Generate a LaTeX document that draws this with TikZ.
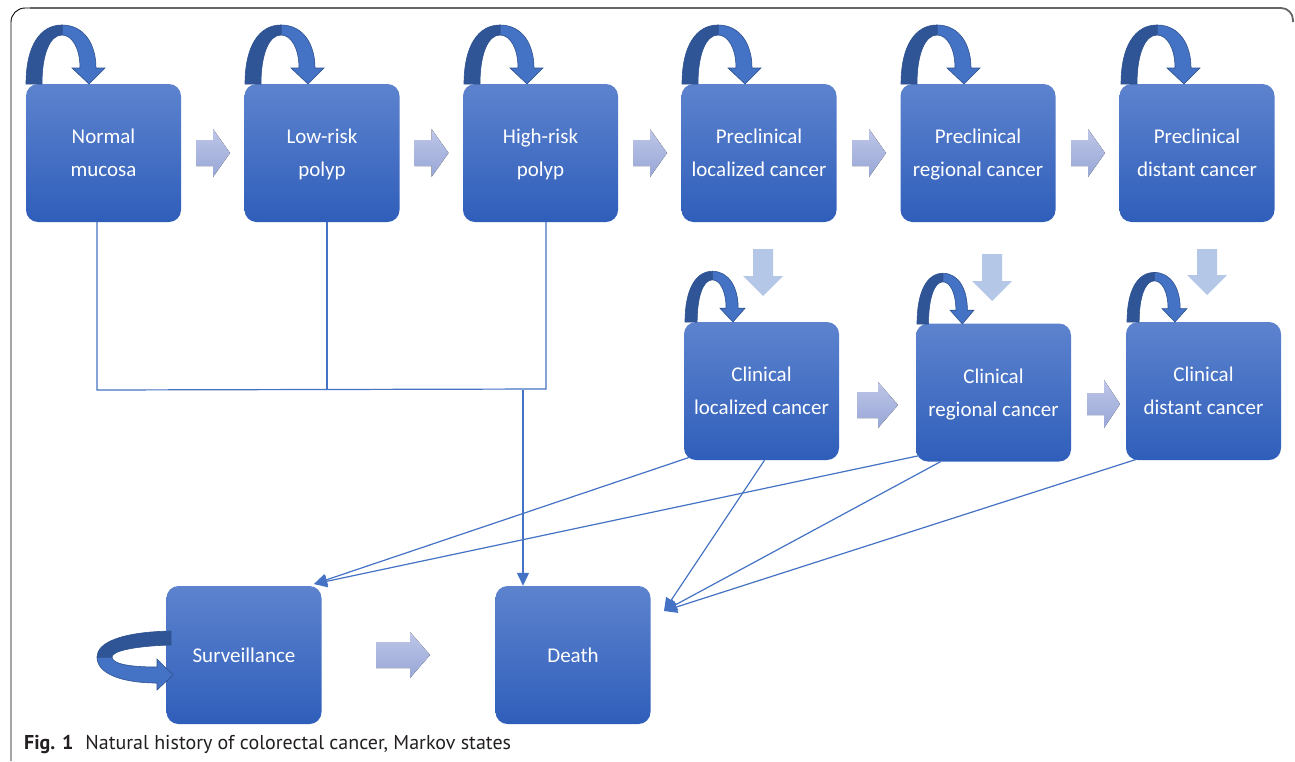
\documentclass[tikz,border=0pt]{standalone}
\usepackage{fontspec}
\setmainfont{Carlito}
\newfontfamily\capfont{PT Sans}
\usetikzlibrary{arrows.meta,calc}
\definecolor{boxtop}{RGB}{93,131,206}
\definecolor{boxbot}{RGB}{47,94,186}
\definecolor{linkc}{RGB}{68,114,196}
\definecolor{loopl}{RGB}{68,114,196}
\definecolor{loopd}{RGB}{47,85,151}
\definecolor{loopo}{RGB}{47,82,143}
\definecolor{harrT}{RGB}{190,198,232}
\definecolor{harrB}{RGB}{152,167,214}
\definecolor{varr}{RGB}{180,199,231}
\definecolor{capc}{RGB}{35,31,32}
\newcommand\myHArrow[6]{%
 \fill[top color=harrT,bottom color=harrB] ({#1},{#2-#5}) -- ({#1+#3},{#2-#5}) -- ({#1+#3},{#2-#6}) -- ({#1+#3+#4},{#2}) -- ({#1+#3},{#2+#6}) -- ({#1+#3},{#2+#5}) -- ({#1},{#2+#5}) -- cycle;}
\newcommand\myVArrow[6]{%
 \fill[varr] ({#1-#5},{#2}) -- ({#1-#5},{#2+#3}) -- ({#1-#6},{#2+#3}) -- ({#1},{#2+#3+#4}) -- ({#1+#6},{#2+#3}) -- ({#1+#5},{#2+#3}) -- ({#1+#5},{#2}) -- cycle;}
\tikzset{
 loopR/.pic={
   \filldraw[fill=loopl, draw=loopo, line width=0.6pt] (36,-59) .. controls (58,-59) and (70,-40) .. (70,-16) -- (79,-16) -- (63,0) -- (46,-16) -- (54,-16) .. controls (54,-36) and (46,-49) .. (36,-49) -- cycle;
   \filldraw[fill=loopd, draw=loopo, line width=0.6pt] (0,0) .. controls (0,-38) and (14,-59) .. (36,-59) -- (36,-49) .. controls (24,-49) and (16,-30) .. (16,0) -- cycle;
 }
}
\begin{document}
\begin{tikzpicture}[x=1pt,y=-1pt,
  box/.style={rounded corners=12pt, top color=boxtop, bottom color=boxbot, minimum width=155pt, minimum height=138pt, inner sep=0pt, align=center, text=white, text depth=0pt, font=\fontsize{21}{33}\selectfont},
  link/.style={draw=linkc, line width=1.2pt},
  tip/.style={-{Triangle[length=13pt,width=12pt]}}]
\useasboundingbox[fill=white] (0,0) rectangle (1295,761);
% frame
\draw[black, line width=0.9pt, rounded corners=14pt] (11,761) -- (11,8) -- (32,8);
\draw[black!60, line width=1.8pt, rounded corners=12pt] (30,8) -- (1293,8) -- (1293,22);
% boxes
\node[box] (nm) at (103.5,153) {Normal\\mucosa};
\node[box] (lr) at (322,153) {Low-risk\\polyp};
\node[box] (hr) at (540.5,153) {High-risk\\polyp};
\node[box] (pl) at (759,153) {Preclinical\\localized cancer};
\node[box] (pr) at (978,153) {Preclinical\\regional cancer};
\node[box] (pd) at (1197,153) {Preclinical\\distant cancer};
\node[box] (cl) at (761.5,391) {Clinical\\localized cancer};
\node[box] (cr) at (993.5,392.5) {Clinical\\regional cancer};
\node[box] (cd) at (1203.5,391) {Clinical\\distant cancer};
\node[box] (sv) at (244,655) {Surveillance};
\node[box] (de) at (573,655) {Death};
% self loops
\pic at (26,84) {loopR};
\pic at (245,84) {loopR};
\pic at (464,84) {loopR};
\pic at (682,84) {loopR};
\pic at (901,84) {loopR};
\pic at (1121,84) {loopR};
\pic[xscale=0.76,yscale=0.86] at (685,322) {loopR};
\pic[xscale=0.72,yscale=0.86] at (917,324) {loopR};
\pic[xscale=0.76,yscale=0.84] at (1127,322) {loopR};
% surveillance loop
\filldraw[fill=loopl, draw=loopo, line width=0.6pt] (97,657) .. controls (97,675) and (125,683) .. (157,683) -- (157,690) -- (173,675) -- (157,659) -- (157,667) .. controls (130,667) and (112,664) .. (112,657) -- cycle;
\filldraw[fill=loopd, draw=loopo, line width=0.6pt] (171,631) .. controls (120,632) and (97,643) .. (97,657) -- (112,657) .. controls (112,651) and (135,646) .. (171,645) -- cycle;
% block arrows
\myHArrow{196}{153}{17}{17}{13}{24}
\myHArrow{414.5}{153}{17}{17}{13}{24}
\myHArrow{633}{153}{17}{17}{13}{24}
\myHArrow{852}{153}{17}{17}{13}{24}
\myHArrow{1071}{153}{17}{17}{13}{24}
\myHArrow{857}{405}{21}{20}{13}{23}
\myHArrow{1087}{404}{17}{16}{11}{24}
\myHArrow{376}{655}{34}{20}{13}{23}
\myVArrow{763}{249}{27}{20}{10}{20}
\myVArrow{992}{254}{27}{20}{10}{20}
\myVArrow{1207}{249}{26}{20}{10}{20}
% connectors
\coordinate (j1) at (97,390);
\coordinate (j2) at (327,390);
\coordinate (j3) at (546,389);
\coordinate (j4) at (523,390);
\coordinate (svin) at (314,584);
\coordinate (dein) at (664,611);
\draw[link] (nm.south -| j1) -- (j1) -- (j3) -- (hr.south -| j3);
\draw[link] (lr.south -| j2) -- (j2);
\draw[link,tip] (j4) -- (de.north -| j4);
\draw[link,tip] ($(cl.south west)+(6,-3)$) -- (svin);
\draw[link,tip] ($(cr.south west)+(3,-6)$) -- (svin);
\draw[link,tip] ($(cl.south)+(3,0)$) -- (dein);
\draw[link,tip] ($(cr.south)+(-53,0)$) -- (dein);
\draw[link,tip] ($(cd.south west)+(11,-1)$) -- (dein);
% caption
\node[anchor=base west, inner sep=0pt, text=capc, font=\capfont\fontsize{20}{22}\selectfont] (cap) at (24,749) {\textbf{Fig. 1}\hspace{0.6em}Natural history of colorectal cancer, Markov states};
\end{tikzpicture}
\end{document}
